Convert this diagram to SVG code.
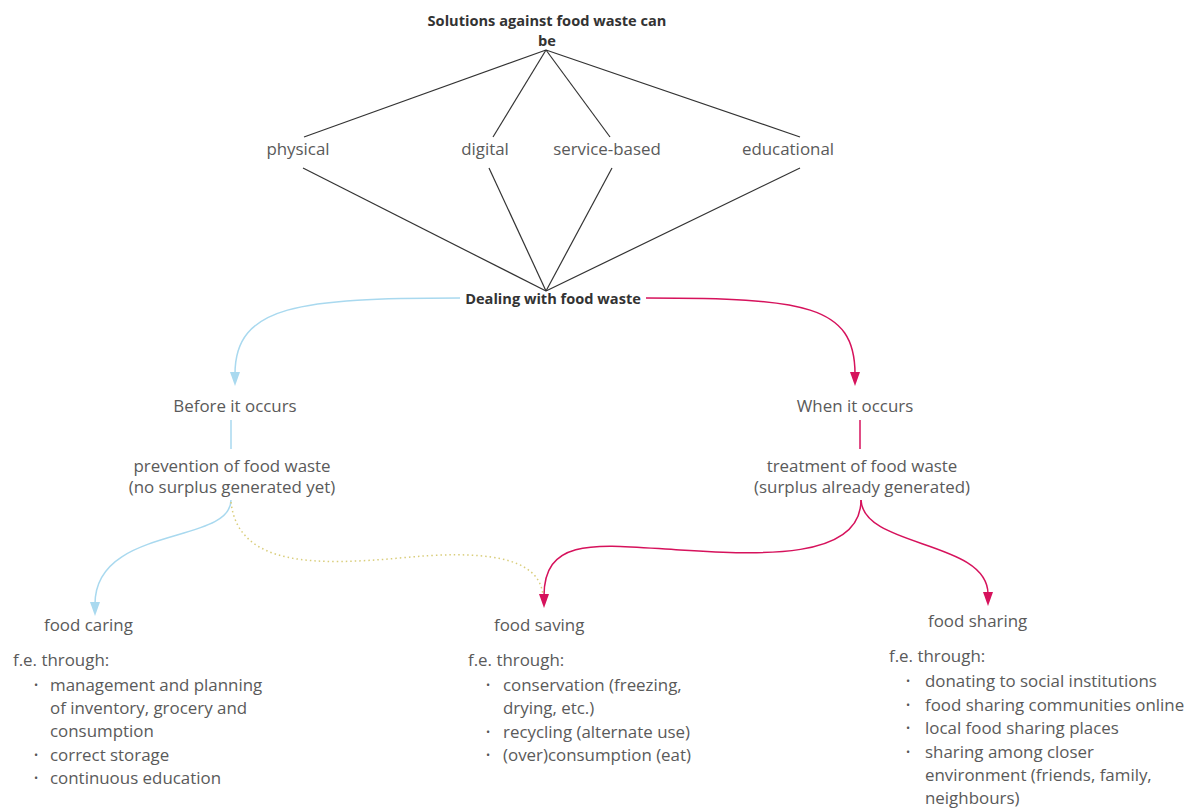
<svg xmlns="http://www.w3.org/2000/svg" width="1193" height="810" viewBox="0 0 1193 810">
<style>
text{font-family:"Open Sans","Noto Sans","Liberation Sans",sans-serif;fill:#5a5a5a;font-size:16.9px;font-weight:400;}
.b{font-weight:bold;font-size:14.6px;fill:#333;}
.c{text-anchor:middle;}
.u{font-size:11px;font-weight:400;fill:#555;}
.k{stroke:#333;stroke-width:1.2;fill:none;}
.bl{stroke:#a9d9ef;stroke-width:1.5;fill:none;}
.rd{stroke:#d6125c;stroke-width:1.5;fill:none;}
.dt{stroke:#d9cd7a;stroke-width:1.5;fill:none;stroke-dasharray:1.5 3;}
</style>
<rect width="1193" height="810" fill="#fff"/>
<g id="connectors">
<path class="k" d="M546 50 L304 137"/>
<path class="k" d="M546 50 L493 137"/>
<path class="k" d="M546 50 L610 137"/>
<path class="k" d="M546 50 L800 137"/>
<path class="k" d="M303 168 L546 291"/>
<path class="k" d="M489 168 L546 291"/>
<path class="k" d="M612 168 L546 291"/>
<path class="k" d="M800 168 L546 291"/>
<path class="bl" d="M460 298 C 300 298, 235 305, 235 374"/>
<path d="M230 372 L240 372 L235 386 Z" fill="#a9d9ef"/>
<path class="rd" d="M646 298 C 805 298, 855 305, 855 374"/>
<path d="M850 372 L860 372 L855 386 Z" fill="#d6125c"/>
<path class="bl" d="M231 420 L231 449"/>
<path class="rd" d="M860 420 L860 449"/>
<path class="bl" d="M231 500 C 231 545, 95 525, 95 604"/>
<path d="M90 602 L100 602 L95 616 Z" fill="#a9d9ef"/>
<path class="dt" d="M231 502 C 238 568, 320 565, 400 558 C 480 550, 540 555, 543 596"/>
<path class="rd" d="M861 500 C 861 560, 760 555, 680 550 C 600 545, 544 535, 544 596"/>
<path d="M539 594 L549 594 L544 608 Z" fill="#d6125c"/>
<path class="rd" d="M861 500 C 863 548, 988 540, 988 594"/>
<path d="M983 592 L993 592 L988 606 Z" fill="#d6125c"/>
</g>
<g id="n-title"><text class="b c" x="547" y="26">Solutions against food waste can</text><text class="b c" x="547" y="46">be</text></g>
<g id="n-physical"><text class="c" x="298" y="155">physical</text></g>
<g id="n-digital"><text class="c" x="485" y="155">digital</text></g>
<g id="n-service"><text class="c" x="607" y="155">service-based</text></g>
<g id="n-educational"><text class="c" x="788" y="155">educational</text></g>
<g id="n-dealing"><text class="b c" x="553" y="304">Dealing with food waste</text></g>
<g id="n-before"><text class="c" x="235" y="412">Before it occurs</text></g>
<g id="n-when"><text class="c" x="855" y="412">When it occurs</text></g>
<g id="n-prevention"><text class="c" x="232" y="472">prevention of food waste</text><text class="c" x="232" y="493">(no surplus generated yet)</text></g>
<g id="n-treatment"><text class="c" x="862" y="472">treatment of food waste</text><text class="c" x="862" y="493">(surplus already generated)</text></g>
<g id="n-caring">
<text x="44" y="631">food caring</text>
<text x="13" y="666">f.e. through:</text>
<text class="u" x="34" y="689">•</text><text x="50" y="691">management and planning</text>
<text x="50" y="714">of inventory, grocery and</text>
<text x="50" y="737">consumption</text>
<text class="u" x="34" y="759">•</text><text x="50" y="761">correct storage</text>
<text class="u" x="34" y="782">•</text><text x="50" y="784">continuous education</text>
</g>
<g id="n-saving">
<text x="494" y="631">food saving</text>
<text x="468" y="666">f.e. through:</text>
<text class="u" x="486" y="689">•</text><text x="503" y="691">conservation (freezing,</text>
<text x="503" y="714">drying, etc.)</text>
<text class="u" x="486" y="736">•</text><text x="503" y="738">recycling (alternate use)</text>
<text class="u" x="486" y="759">•</text><text x="503" y="761">(over)consumption (eat)</text>
</g>
<g id="n-sharing">
<text x="928" y="627">food sharing</text>
<text x="889" y="662">f.e. through:</text>
<text class="u" x="906" y="685">•</text><text x="925" y="687">donating to social institutions</text>
<text class="u" x="906" y="709">•</text><text x="925" y="711">food sharing communities online</text>
<text class="u" x="906" y="732">•</text><text x="925" y="734">local food sharing places</text>
<text class="u" x="906" y="756">•</text><text x="925" y="758">sharing among closer</text>
<text x="925" y="781">environment (friends, family,</text>
<text x="925" y="804">neighbours)</text>
</g>
</svg>
